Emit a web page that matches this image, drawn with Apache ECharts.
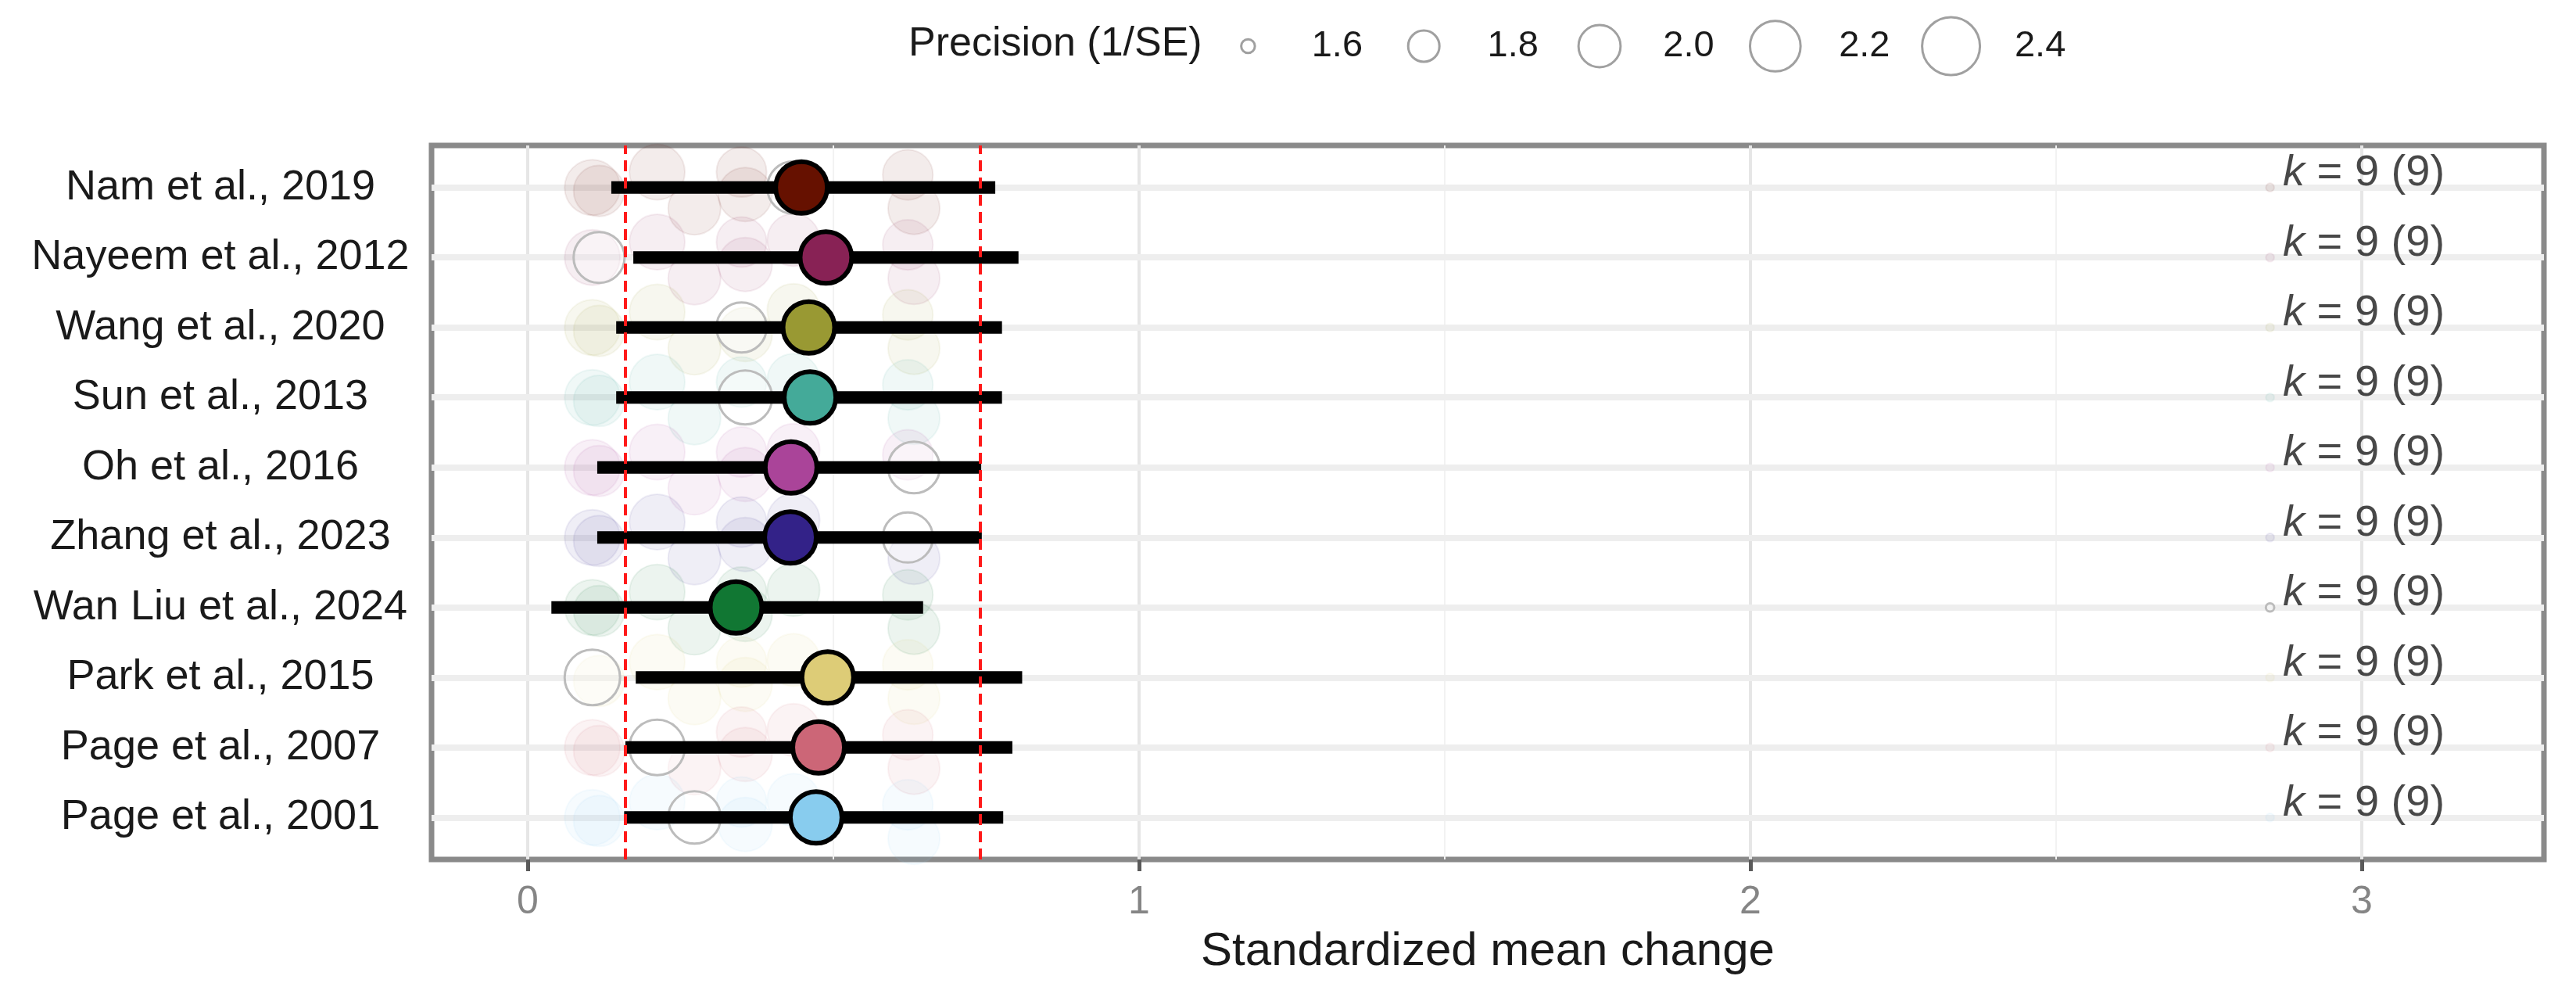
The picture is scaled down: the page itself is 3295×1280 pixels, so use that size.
<!DOCTYPE html>
<html>
<head>
<meta charset="utf-8">
<script src="https://cdn.jsdelivr.net/npm/echarts@6/dist/echarts.min.js"></script>
<style>
html,body{margin:0;padding:0;background:#fff;}
#chart{width:3295px;height:1280px;}
</style>
</head>
<body>
<div id="chart"></div>
<script>
// ---------------- data ----------------
const categories = ["Nam et al., 2019","Nayeem et al., 2012","Wang et al., 2020","Sun et al., 2013","Oh et al., 2016","Zhang et al., 2023","Wan Liu et al., 2024","Park et al., 2015","Page et al., 2007","Page et al., 2001"];
const estimates = [0.448, 0.488, 0.460, 0.462, 0.431, 0.430, 0.341, 0.491, 0.476, 0.472];
const ciLower   = [0.137, 0.173, 0.145, 0.145, 0.114, 0.114, 0.039, 0.177, 0.160, 0.158];
const ciUpper   = [0.765, 0.803, 0.776, 0.776, 0.742, 0.743, 0.647, 0.809, 0.793, 0.778];
const studyEffects   = [0.435, 0.117, 0.350, 0.356, 0.632, 0.622, 2.850, 0.106, 0.212, 0.273];
const studyPrecision = [2.25, 2.21, 2.19, 2.29, 2.23, 2.19, 1.57, 2.33, 2.33, 2.25];
const studyJitter    = [0.25, -0.05, 0.22, -0.10, -0.30, 0.18, 0.00, 0.00, 0.22, -0.30];
const kIncluded = [9, 9, 9, 9, 9, 9, 9, 9, 9, 9];
const kTotal    = [9, 9, 9, 9, 9, 9, 9, 9, 9, 9];
const pooledCI = [0.160, 0.745];
const precisionLegend = [1.6, 1.8, 2.0, 2.2, 2.4];
const xTicks = [0, 1, 2, 3];
const xMinorTicks = [0.5, 1.5, 2.5];
const palette = ["#661100","#882255","#999933","#44AA99","#AA4499","#332288","#117733","#DDCC77","#CC6677","#88CCEE"];
const kLabelX = 2.871;

// ---------------- helpers ----------------
const n = categories.length;
const rowY = categories.map((_, i) => n - i);          // top row = n
function sizeOf(p){ return Math.sqrt(Math.max(6460 * p - 10028, 60)); }
function rgba(hex, a){
  const v = parseInt(hex.slice(1), 16);
  return 'rgba(' + ((v >> 16) & 255) + ',' + ((v >> 8) & 255) + ',' + (v & 255) + ',' + a + ')';
}
const FONT = '"Liberation Sans", Arial, Helvetica, sans-serif';

const chart = echarts.init(document.getElementById('chart'), null, {renderer: 'canvas'});

const series = [];

// grid lines
series.push({
  type: 'line', data: [], silent: true, z: 1,
  markLine: {
    silent: true, symbol: 'none', label: {show: false}, animation: false, z: 1,
    data: [].concat(
      xTicks.map(v => ({xAxis: v, lineStyle: {color: '#e6e6e6', width: 4, type: 'solid'}})),
      xMinorTicks.map(v => ({xAxis: v, lineStyle: {color: '#f2f2f2', width: 2, type: 'solid'}})),
      rowY.map(v => ({yAxis: v, lineStyle: {color: '#eeeeee', width: 8, type: 'solid'}}))
    )
  }
});

// faint study circles in each row
categories.forEach((cat, r) => {
  const data = [];
  studyEffects.forEach((e, s) => {
    if (s === r) return;
    data.push([e, rowY[r] + studyJitter[s], studyPrecision[s]]);
  });
  series.push({
    type: 'scatter', name: cat, data: data, z: 2, silent: true,
    symbolSize: d => sizeOf(d[2]),
    itemStyle: {opacity: 1, color: rgba(palette[r], 0.08), borderColor: rgba(palette[r], 0.08), borderWidth: 2}
  });
});

// hollow circle: the left-out study
series.push({
  type: 'scatter', data: categories.map((c, r) => [studyEffects[r], rowY[r], studyPrecision[r]]),
  z: 3, silent: true,
  symbolSize: d => sizeOf(d[2]),
  itemStyle: {opacity: 1, color: 'rgba(255,255,255,0.3)', borderColor: '#bcbcbc', borderWidth: 3}
});

// CI bars
series.push({
  type: 'custom', z: 4, silent: true,
  data: categories.map((c, r) => [ciLower[r], ciUpper[r], rowY[r]]),
  encode: {x: [0, 1], y: 2},
  renderItem: function(params, api){
    const y = api.value(2);
    const p1 = api.coord([api.value(0), y]);
    const p2 = api.coord([api.value(1), y]);
    return {type: 'rect', shape: {x: p1[0], y: p1[1] - 8, width: p2[0] - p1[0], height: 16},
            style: {fill: '#000000', stroke: null}};
  }
});

// pooled CI dashed red lines
series.push({
  type: 'line', data: [], silent: true, z: 5,
  markLine: {
    silent: true, symbol: 'none', label: {show: false}, animation: false, z: 5,
    lineStyle: {color: '#ff1a1a', width: 4, type: [14, 8]},
    data: pooledCI.map(v => ({xAxis: v}))
  }
});

// point estimates
series.push({
  type: 'scatter', z: 6, silent: true,
  data: categories.map((c, r) => ({value: [estimates[r], rowY[r]], itemStyle: {color: palette[r]}})),
  symbolSize: 66,
  itemStyle: {opacity: 1, borderColor: '#000', borderWidth: 6}
});

// k labels
series.push({
  type: 'scatter', z: 7, silent: true,
  data: categories.map((c, r) => [kLabelX, rowY[r], kIncluded[r], kTotal[r]]),
  symbolSize: 0,
  itemStyle: {color: 'rgba(0,0,0,0)'},
  label: {
    show: true, position: 'right', distance: 0, align: 'left', verticalAlign: 'bottom',
    offset: [0, 10],
    fontFamily: FONT, fontSize: 56, color: '#1a1a1a',
    formatter: p => '{it|k} = ' + p.value[2] + ' (' + p.value[3] + ')',
    rich: {it: {fontStyle: 'italic', fontFamily: FONT, fontSize: 56, color: '#1a1a1a'}}
  }
});

// size legend (second grid)
series.push({
  type: 'scatter', xAxisIndex: 1, yAxisIndex: 1, z: 3, silent: true,
  data: precisionLegend.map((p, i) => [i, 0.5, p]),
  symbolSize: d => sizeOf(d[2]),
  itemStyle: {opacity: 1, color: 'rgba(255,255,255,0)', borderColor: '#a0a0a0', borderWidth: 3},
  label: {
    show: true, position: 'inside', offset: [114, 0], align: 'center', verticalAlign: 'middle',
    fontFamily: FONT, fontSize: 47, color: '#1a1a1a',
    formatter: p => p.value[2].toFixed(1)
  }
});

const option = {
  animation: false,
  backgroundColor: '#ffffff',
  textStyle: {fontFamily: FONT},
  graphic: [{
    type: 'text', left: 1162, top: 31,
    style: {text: 'Precision (1/SE)', fontFamily: FONT, fontSize: 52, fill: '#1a1a1a'}
  }],
  grid: [
    {left: 552, top: 186, width: 2702, height: 913, show: true,
     backgroundColor: '#ffffff', borderColor: '#8a8a8a', borderWidth: 7, containLabel: false},
    {left: 1484, top: 20, width: 1124, height: 78, show: false}
  ],
  xAxis: [
    {type: 'value', gridIndex: 0, min: -0.157, max: 3.298,
     name: 'Standardized mean change', nameLocation: 'middle', nameGap: 88,
     nameTextStyle: {fontFamily: FONT, fontSize: 60, color: '#1a1a1a'},
     axisLine: {show: false}, splitLine: {show: false},
     axisTick: {show: true, length: 15, customValues: xTicks, lineStyle: {color: '#5a5a5a', width: 5}},
     axisLabel: {show: true, customValues: xTicks, margin: 30, fontFamily: FONT, fontSize: 50, color: '#858585',
                 formatter: v => String(v)}},
    {type: 'category', gridIndex: 1, data: precisionLegend.map(p => p.toFixed(1)), show: false}
  ],
  yAxis: [
    {type: 'value', gridIndex: 0, min: 0.4, max: n + 0.6,
     axisLine: {show: false}, splitLine: {show: false},
     axisTick: {show: true, length: 15, customValues: rowY, lineStyle: {color: '#5a5a5a', width: 5}},
     axisLabel: {show: true, customValues: rowY, margin: 270, align: 'center',
                 fontFamily: FONT, fontSize: 54, color: '#1a1a1a',
                 formatter: v => categories[n - Math.round(v)]}},
    {type: 'value', gridIndex: 1, min: 0, max: 1, show: false}
  ],
  series: series
};

chart.setOption(option);
</script>
</body>
</html>
